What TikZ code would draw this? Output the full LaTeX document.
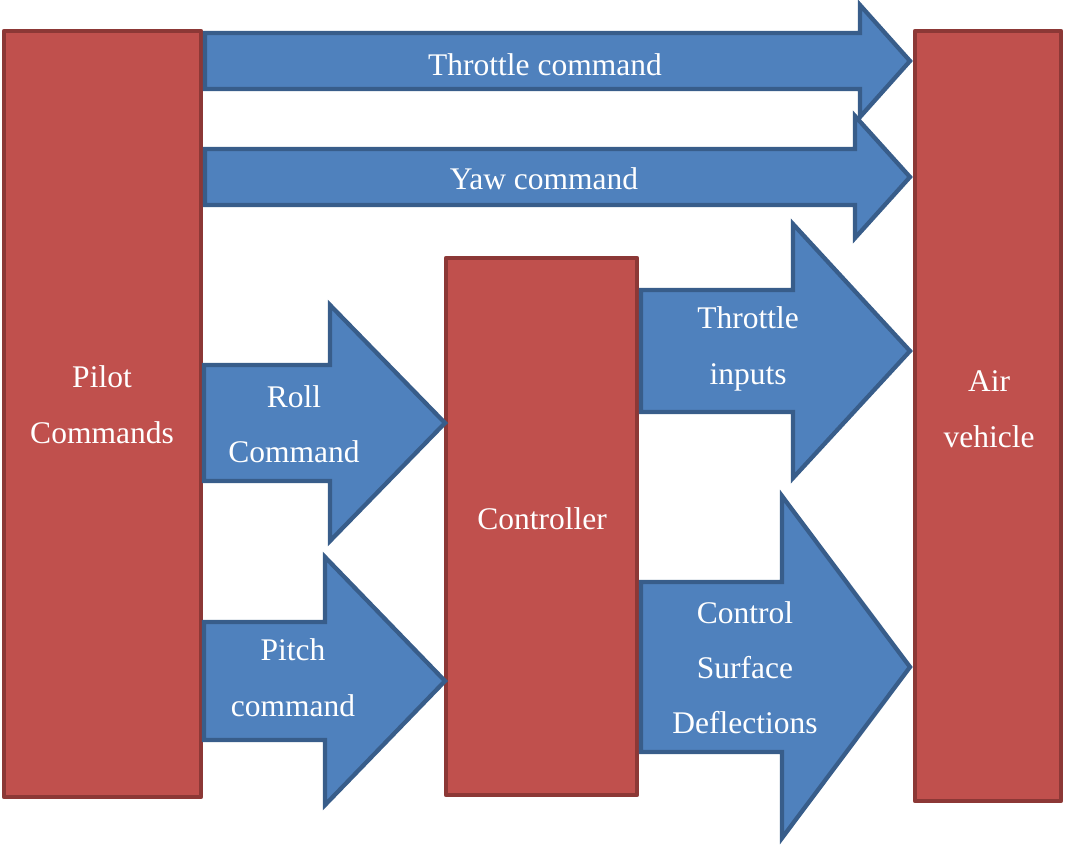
\documentclass[tikz,border=0pt]{standalone}
\usepackage{fontspec}
\setmainfont{Liberation Serif}
\definecolor{boxfill}{HTML}{C0504D}
\definecolor{boxline}{HTML}{8C3836}
\definecolor{arrfill}{HTML}{4F81BD}
\definecolor{arrline}{HTML}{385D8A}
% block arrow: name, x start, x head base, x tip, y centre, shaft half height, head half height
\newcommand\blkarrow[7]{%
  \coordinate (#1) at (#4,#5);
  \draw[blockarrow] (#2,#5-#6) -- (#3,#5-#6) -- (#3,#5-#7) -- (#1)
    -- (#3,#5+#7) -- (#3,#5+#6) -- (#2,#5+#6) -- cycle;}
\begin{document}
\begin{tikzpicture}[x=1pt,y=-1pt,
  unitbox/.style={draw=boxline,fill=boxfill,line width=4.3pt,line join=round},
  blockarrow/.style={draw=arrline,fill=arrfill,line width=4.3pt,line join=miter},
  lbl/.style={text=white,anchor=base,inner sep=0pt,font=\fontsize{31.5}{37}\selectfont}]
\useasboundingbox (0,0) rectangle (1065,846);

% units
\draw[unitbox] (4,31) rectangle (201,797);
\coordinate (pilot) at (102.5,414);
\draw[unitbox] (446,258) rectangle (637,795);
\coordinate (ctrl) at (541.5,526);
\draw[unitbox] (915,31) rectangle (1061,801);
\coordinate (air) at (988,416);

% signal arrows
\blkarrow{thr}{205}{860}{910}{61}{28}{56}
\blkarrow{yaw}{205}{855}{910}{177}{28}{61}
\blkarrow{roll}{204}{330}{445}{423}{58}{118}
\blkarrow{pitch}{204}{325}{445}{681}{59}{124}
\blkarrow{thin}{641}{793}{910}{351}{61}{127}
\blkarrow{csd}{641}{782}{910}{667}{85}{171}

% labels
\node[lbl] (pilotA) at (102,387) {Pilot};
\node[lbl] (pilotB) at (102,443) {Commands};
\node[lbl] (ctrlA) at (542,529) {Controller};
\node[lbl] (airA) at (989,391) {Air};
\node[lbl] (airB) at (989,447) {vehicle};
\node[lbl] (thrA) at (545,75) {Throttle command};
\node[lbl] (yawA) at (544,189) {Yaw command};
\node[lbl] (rollA) at (294,407) {Roll};
\node[lbl] (rollB) at (294,462) {Command};
\node[lbl] (pitchA) at (293,660) {Pitch};
\node[lbl] (pitchB) at (293,716) {command};
\node[lbl] (thinA) at (748,328) {Throttle};
\node[lbl] (thinB) at (748,384) {inputs};
\node[lbl] (csdA) at (745,623) {Control};
\node[lbl] (csdB) at (745,678) {Surface};
\node[lbl] (csdC) at (745,733) {Deflections};
\end{tikzpicture}
\end{document}
